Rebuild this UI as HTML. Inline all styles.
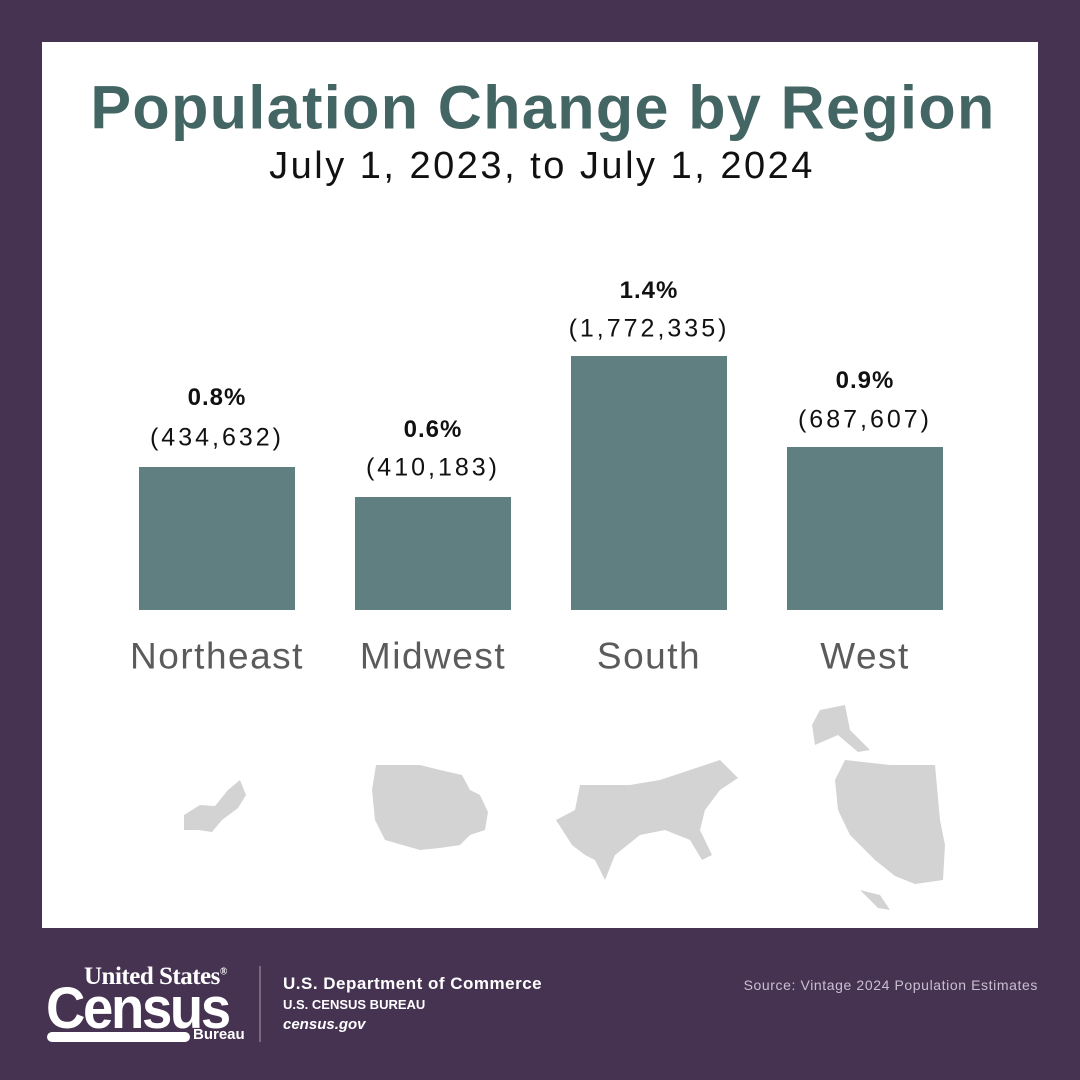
<!DOCTYPE html>
<html><head><meta charset="utf-8"><style>
body{margin:0;width:1080px;height:1080px;background:#463352;position:relative;font-family:"Liberation Sans",sans-serif;overflow:hidden}
.panel{position:absolute;left:42px;top:42px;width:996px;height:886px;background:#fff}
.t{position:absolute;white-space:nowrap;transform:translate(-50%,-50%);line-height:1}
.bar{position:absolute;background:#5f7f80;width:156px}
.pct{font-size:24px;font-weight:bold;color:#111;letter-spacing:1px}
.val{font-size:25px;color:#111;letter-spacing:3px}
.reg{font-size:37px;color:#5b5b5b;letter-spacing:1.5px}
</style></head><body>
<div class="panel"></div>
<div class="t" style="left:543px;top:108px;font-size:61px;font-weight:bold;color:#436563;letter-spacing:1.4px">Population Change by Region</div>
<div class="t" style="left:542px;top:166px;font-size:38px;color:#111;letter-spacing:2.5px">July 1, 2023, to July 1, 2024</div>

<div class="bar" style="left:139px;top:467px;height:143px"></div>
<div class="bar" style="left:355px;top:497px;height:113px"></div>
<div class="bar" style="left:571px;top:356px;height:254px"></div>
<div class="bar" style="left:787px;top:447px;height:163px"></div>

<div class="t pct" style="left:217px;top:398px">0.8%</div>
<div class="t val" style="left:217px;top:438px">(434,632)</div>
<div class="t pct" style="left:433px;top:430px">0.6%</div>
<div class="t val" style="left:433px;top:468px">(410,183)</div>
<div class="t pct" style="left:649px;top:291px">1.4%</div>
<div class="t val" style="left:649px;top:329px">(1,772,335)</div>
<div class="t pct" style="left:865px;top:381px">0.9%</div>
<div class="t val" style="left:865px;top:420px">(687,607)</div>

<div class="t reg" style="left:217px;top:656px">Northeast</div>
<div class="t reg" style="left:433px;top:656px">Midwest</div>
<div class="t reg" style="left:649px;top:656px">South</div>
<div class="t reg" style="left:865px;top:656px">West</div>

<svg style="position:absolute;left:0;top:0" width="1080" height="1080">
<g fill="#d3d3d3">
<polygon points="184,815 200,805 215,806 228,790 240,780 246,795 238,808 222,820 212,832 198,830 184,830"/>
<polygon points="376,765 420,765 440,770 462,775 470,790 480,795 488,812 485,830 470,835 460,845 440,848 420,850 385,840 375,820 372,790"/>
<polygon points="580,785 630,785 660,780 690,770 720,760 738,778 720,790 705,810 700,830 712,855 702,860 690,840 665,830 640,835 615,855 605,880 595,860 585,855 572,845 556,820 575,810"/>
<polygon points="820,710 845,705 850,730 870,750 858,752 838,735 815,745 812,725"/>
<polygon points="845,760 890,765 935,765 940,820 945,845 943,880 915,884 895,876 875,860 850,835 838,810 835,780"/>
<polygon points="860,890 880,895 890,910 878,908"/>
</g>
<line x1="260" y1="966" x2="260" y2="1042" stroke="#8a7a92" stroke-width="1.5"/>
<rect x="47" y="1032" width="143" height="10" rx="5" fill="#fff"/>
</svg>
<div style="position:absolute;left:84px;top:964px;font-family:'Liberation Serif',serif;font-size:25px;color:#fff;font-weight:bold;line-height:1;letter-spacing:-0.5px">United States<sup style="font-size:10px">®</sup></div>
<div style="position:absolute;left:46px;top:980px;font-size:58px;font-weight:bold;color:#fff;line-height:1;letter-spacing:-2.5px;transform:scaleX(0.94);transform-origin:left top">Census</div>
<div style="position:absolute;left:193px;top:1027px;font-size:15px;font-weight:bold;color:#fff;line-height:1">Bureau</div>
<div style="position:absolute;left:283px;top:975px;font-size:17px;font-weight:bold;color:#fff;line-height:1;letter-spacing:0.5px">U.S. Department of Commerce</div>
<div style="position:absolute;left:283px;top:998px;font-size:13px;font-weight:bold;color:#fff;line-height:1">U.S. CENSUS BUREAU</div>
<div style="position:absolute;left:283px;top:1017px;font-size:15px;font-weight:bold;font-style:italic;color:#fff;line-height:1">census.gov</div>
<div style="position:absolute;right:42px;top:978px;font-size:14px;color:#c9bfd0;line-height:1;letter-spacing:0.6px">Source: Vintage 2024 Population Estimates</div>
</body></html>
